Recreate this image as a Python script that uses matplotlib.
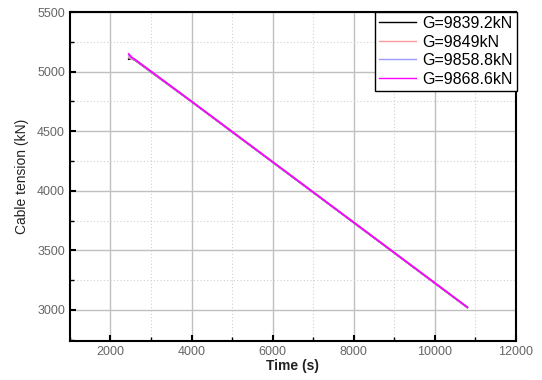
import matplotlib.pyplot as plt
from matplotlib.ticker import MultipleLocator

plt.rcParams['font.family'] = ['Liberation Sans', 'DejaVu Sans']

# Time (s) and cable tension (kN) for each gross weight
time_s = [2450, 2520, 2600, 4000, 6000, 8000, 10800]
g1 = [5105, 5110, 5098, 4748, 4240, 3732, 3020]
g2 = [5120, 5105, 5100, 4749, 4241, 3733, 3021]
g3 = [5135, 5112, 5102, 4750, 4242, 3734, 3022]
g4 = [5150, 5122, 5104, 4751, 4243, 3735, 3023]

labels = ["G=9839.2kN", "G=9849kN", "G=9858.8kN", "G=9868.6kN"]
colors = ["#000000", "#ff9a9a", "#9a9aff", "#ff00ff"]

fig = plt.figure(figsize=(5.42, 3.8), dpi=100)
ax = fig.add_axes([0.129, 0.103, 0.823, 0.865])

for y, lab, c in zip([g1, g2, g3, g4], labels, colors):
    ax.plot(time_s, y, color=c, linewidth=1.2, label=lab)

ax.set_xlim(1000, 12000)
ax.set_ylim(2740, 5500)
ax.xaxis.set_major_locator(MultipleLocator(2000))
ax.xaxis.set_minor_locator(MultipleLocator(1000))
ax.yaxis.set_major_locator(MultipleLocator(500))
ax.yaxis.set_minor_locator(MultipleLocator(250))

ax.grid(True, which='major', color='#c0c0c0', linewidth=1.0)
ax.grid(True, which='minor', color='#d0d0d0', linewidth=0.8, linestyle=(0, (1, 2)))
ax.set_axisbelow(True)

ax.tick_params(which='both', direction='in', labelsize=9, labelcolor='#666666')
ax.tick_params(which='major', length=4, width=1.5)
ax.tick_params(which='minor', length=3, width=1)
for s in ax.spines.values():
    s.set_linewidth(1.5)

ax.set_xlabel("Time (s)", fontsize=10, fontweight='bold', color='#222222', labelpad=1)
ax.set_ylabel("Cable tension (kN)", fontsize=10, color='#222222', labelpad=6)

leg = ax.legend(loc='upper right', bbox_to_anchor=(517 / 542, 1 - 12 / 380),
                bbox_transform=fig.transFigure, prop={'size': 11.5}, frameon=True,
                fancybox=False, edgecolor='black', framealpha=1,
                borderpad=0.25, labelspacing=0.22, handlelength=2.3,
                handletextpad=0.4, borderaxespad=0)
leg.get_frame().set_linewidth(1.0)
for h in leg.get_lines():
    h.set_linewidth(1.0)

plt.savefig("out.png", dpi=100)
